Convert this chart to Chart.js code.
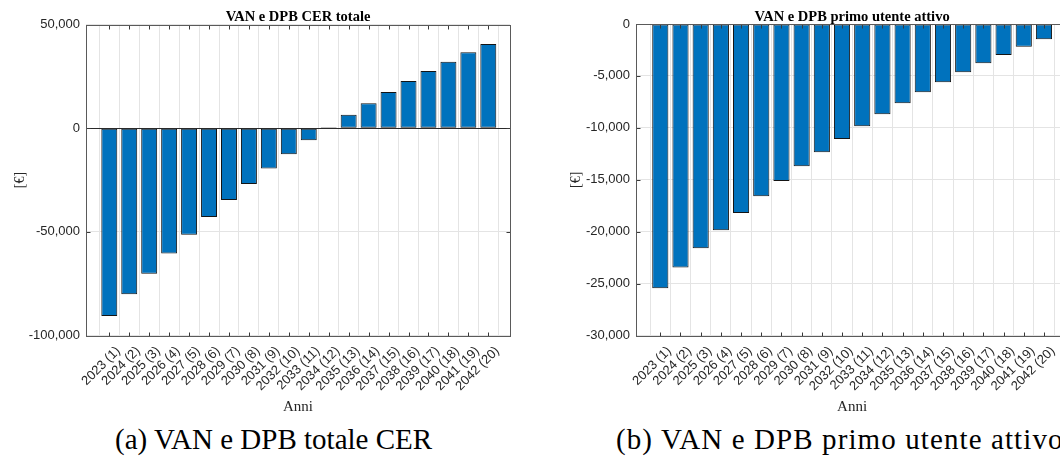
<!DOCTYPE html>
<html>
<head>
<meta charset="utf-8">
<script src="https://cdn.jsdelivr.net/npm/chart.js@4.4.1/dist/chart.umd.min.js"></script>
<style>
html,body{margin:0;padding:0;background:#fff;}
#wrap{position:relative;width:1060px;height:459px;overflow:hidden;background:#fff;}
#ca{position:absolute;left:0;top:0;}
#cb{position:absolute;left:530px;top:0;}
.cap{position:absolute;font-family:'Liberation Serif',serif;font-size:29px;line-height:29px;color:#000;white-space:nowrap;}
</style>
</head>
<body>
<div id="wrap">
<canvas id="ca" width="530" height="420"></canvas>
<canvas id="cb" width="560" height="420"></canvas>
<div class="cap" id="capa" style="left:115px;top:425px;">(a) VAN e DPB totale CER</div>
<div class="cap" id="capb" style="left:616px;top:425px;letter-spacing:1.1px;">(b) VAN e DPB primo utente attivo</div>
</div>
<script>
const categories = ['2023 (1)','2024 (2)','2025 (3)','2026 (4)','2027 (5)','2028 (6)','2029 (7)','2030 (8)','2031 (9)','2032 (10)',
  '2033 (11)','2034 (12)','2035 (13)','2036 (14)','2037 (15)','2038 (16)','2039 (17)','2040 (18)','2041 (19)','2042 (20)'];
const vanTotaleCER = [-90600,-80100,-70200,-60500,-51400,-42800,-34600,-26900,-19500,-12600,
  -5840,450,6500,12000,17450,22750,27600,32050,36600,40600];
const vanPrimoUtente = [-25450,-23460,-21600,-19860,-18200,-16590,-15120,-13700,-12350,-11070,
  -9850,-8690,-7640,-6580,-5610,-4650,-3780,-2980,-2190,-1470];
const titleA = 'VAN e DPB CER totale';
const titleB = 'VAN e DPB primo utente attivo';
const xAxisTitle = 'Anni';
const yAxisTitle = '[€]';
const yTicksA = [-100000, -50000, 0, 50000];
const yTicksB = [-30000, -25000, -20000, -15000, -10000, -5000, 0];

const frame = {
  id: 'frame',
  afterDatasetsDraw(chart, args, opts) {
    const {ctx, chartArea: a, scales: {x, y}} = chart;
    const L = Math.round(a.left) + 0.5, R = Math.round(a.right) + 0.5;
    const T = Math.round(a.top) + 0.5, B = Math.round(a.bottom) + 0.5;
    ctx.save();
    ctx.lineWidth = 1;
    const line = (x1, y1, x2, y2) => { ctx.beginPath(); ctx.moveTo(x1, y1); ctx.lineTo(x2, y2); ctx.stroke(); };
    if (opts.zero) {
      const py = Math.round(y.getPixelForValue(0)) + 0.5;
      ctx.strokeStyle = '#2a2a2a';
      line(L, py, R, py);
    }
    ctx.strokeStyle = '#3a3a3a';
    x.ticks.forEach(t => {
      const px = Math.round(x.getPixelForValue(t.value)) + 0.5;
      line(px, B, px, B - 4);
      line(px, T, px, T + 4);
    });
    y.ticks.forEach(t => {
      const py = Math.round(y.getPixelForValue(t.value)) + 0.5;
      line(L, py, L + 4, py);
      line(R, py, R - 4, py);
    });
    ctx.strokeStyle = '#5a5a5a';
    ctx.strokeRect(L, T, R - L, B - T);
    ctx.restore();
  }
};

function makeChart(id, values, yTicks, title, xmin, xmax, yAxisW, yTitlePad, topH, titleTop, zero, padRight) {
  const fmt = v => Number(v).toLocaleString('en-US');
  return new Chart(document.getElementById(id), {
    type: 'bar',
    data: {
      datasets: [{
        data: values.map((v, i) => ({x: i + 1, y: v})),
        backgroundColor: '#0072BD',
        borderColor: '#141414',
        borderWidth: 1,
        borderSkipped: false,
        barPercentage: 0.8,
        categoryPercentage: 1.0
      }]
    },
    options: {
      responsive: false,
      animation: false,
      devicePixelRatio: 1,
      layout: {padding: {left: 0, right: padRight, top: 0, bottom: 0}},
      plugins: {
        legend: {display: false},
        tooltip: {enabled: false},
        title: {display: false},
        frame: {zero: zero}
      },
      scales: {
        xt: {
          type: 'linear', position: 'top', min: xmin, max: xmax, offset: false,
          afterFit: s => { s.height = topH; s.paddingLeft = 0; s.paddingRight = 0; },
          grid: {display: false, drawTicks: false},
          border: {display: false},
          ticks: {display: false},
          title: {
            display: true, text: title, color: '#000',
            font: {family: 'Liberation Serif', weight: 'bold', size: 14.5, lineHeight: 1},
            padding: {top: titleTop, bottom: 0}
          }
        },
        x: {
          type: 'linear', min: xmin, max: xmax, offset: false,
          afterBuildTicks: s => { s.ticks = categories.map((c, i) => ({value: i + 1})); },
          afterFit: s => { s.height = 420 - 335.5; s.paddingLeft = 0; s.paddingRight = 0; },
          grid: {color: '#e4e4e4', drawTicks: false},
          border: {display: false},
          ticks: {
            autoSkip: false, minRotation: 45, maxRotation: 45, padding: 8, labelOffset: 9,
            color: '#262626', font: {family: 'Liberation Sans', size: 13},
            callback: v => categories[Math.round(v) - 1] || ''
          },
          title: {
            display: true, text: xAxisTitle, color: '#262626',
            font: {family: 'Liberation Serif', size: 15, lineHeight: 1.2},
            padding: {top: 0, bottom: 4}
          }
        },
        y: {
          min: yTicks[0], max: yTicks[yTicks.length - 1],
          afterBuildTicks: s => { s.ticks = yTicks.map(v => ({value: v})); },
          afterFit: s => { s.width = yAxisW; s.paddingTop = 0; s.paddingBottom = 0; },
          grid: {color: '#e4e4e4', drawTicks: false},
          border: {display: false},
          ticks: {
            padding: 6, color: '#262626',
            font: {family: 'Liberation Sans', size: 13},
            callback: v => fmt(v)
          },
          title: {
            display: true, text: yAxisTitle, color: '#262626',
            font: {family: 'Liberation Serif', size: 14, lineHeight: 1.2},
            padding: {top: yTitlePad, bottom: 0}
          }
        }
      }
    },
    plugins: [frame]
  });
}

makeChart('ca', vanTotaleCER, yTicksA, titleA, -0.168, 21.088, 86, 11.6, 24.5, 10, true, 20);
makeChart('cb', vanPrimoUtente, yTicksB, titleB, -0.203, 21.2, 106, 38.1, 24, 9.5, false, 21.8);
</script>
</body>
</html>
